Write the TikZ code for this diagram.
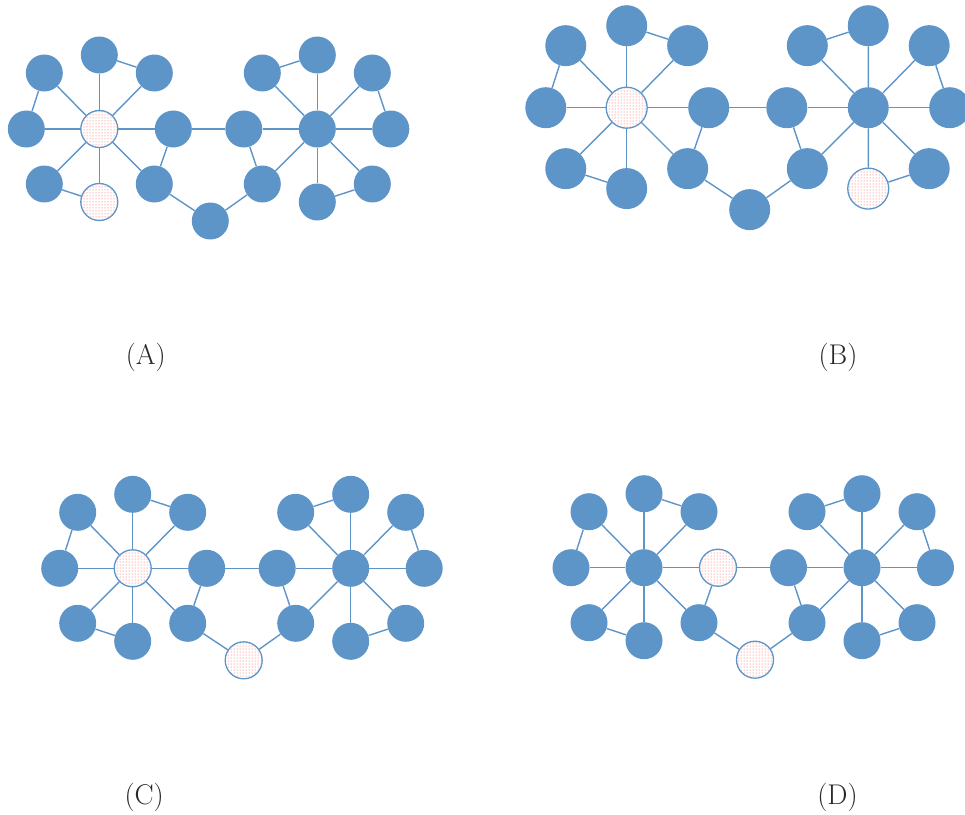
\documentclass[tikz,border=0pt]{standalone}
\usetikzlibrary{patterns}
\definecolor{nblue}{RGB}{94,149,201}
\definecolor{ltxt}{RGB}{40,40,40}
\tikzset{
  solidnode/.style={fill=nblue, draw=none},
  dotnode/.style={preaction={fill=white}, pattern=dots, pattern color=red!70, draw=nblue, line width=1.3pt},
  edge/.style={draw=nblue, line width=1.4pt},
  nh1/.style=solidnode, nt1/.style=solidnode, ntr1/.style=solidnode, nr1/.style=solidnode,
  nbr1/.style=solidnode, nb1/.style=solidnode, nbl1/.style=solidnode, nl1/.style=solidnode, ntl1/.style=solidnode,
  nh2/.style=solidnode, nt2/.style=solidnode, ntr2/.style=solidnode, nr2/.style=solidnode,
  nbr2/.style=solidnode, nb2/.style=solidnode, nbl2/.style=solidnode, nl2/.style=solidnode, ntl2/.style=solidnode,
  nc/.style=solidnode,
  lbl/.style={inner sep=0pt, text=ltxt, font=\fontsize{28.5}{34}\selectfont}
}
% #1 prefix, #2 x, #3 y, #4 scale, #5 overrides
\newcommand\drawpanel[5]{%
\begin{scope}[shift={(#2,#3)}, scale=#4, nd/.style={circle, inner sep=0pt, minimum size=#4*37pt}, #5]
  \node[nd,nh1] (#1h1) at (0,0) {};
  \node[nd,nt1] (#1t1) at (0,-74) {};
  \node[nd,ntr1] (#1tr1) at (55,-56) {};
  \node[nd,nr1] (#1r1) at (74,0) {};
  \node[nd,nbr1] (#1br1) at (55,55) {};
  \node[nd,nb1] (#1b1) at (0,73) {};
  \node[nd,nbl1] (#1bl1) at (-55,55) {};
  \node[nd,nl1] (#1l1) at (-73,0) {};
  \node[nd,ntl1] (#1tl1) at (-55,-56) {};
  \node[nd,nh2] (#1h2) at (218,0) {};
  \node[nd,nt2] (#1t2) at (218,-74) {};
  \node[nd,ntl2] (#1tl2) at (163,-56) {};
  \node[nd,nl2] (#1l2) at (144.5,0) {};
  \node[nd,nbl2] (#1bl2) at (163,55) {};
  \node[nd,nb2] (#1b2) at (218,73) {};
  \node[nd,nbr2] (#1br2) at (273,55) {};
  \node[nd,nr2] (#1r2) at (291.5,0) {};
  \node[nd,ntr2] (#1tr2) at (273,-56) {};
  \node[nd,nc] (#1c) at (111,92) {};
  \foreach \k in {t1,tr1,r1,br1,b1,bl1,l1,tl1} \draw[edge] (#1h1) -- (#1\k);
  \foreach \k in {t2,tr2,r2,br2,b2,bl2,l2,tl2} \draw[edge] (#1h2) -- (#1\k);
  \draw[edge] (#1tl1) -- (#1l1);
  \draw[edge] (#1t1) -- (#1tr1);
  \draw[edge] (#1bl1) -- (#1b1);
  \draw[edge] (#1r1) -- (#1br1);
  \draw[edge] (#1r1) -- (#1l2);
  \draw[edge] (#1br1) -- (#1c);
  \draw[edge] (#1c) -- (#1bl2);
  \draw[edge] (#1l2) -- (#1bl2);
  \draw[edge] (#1tl2) -- (#1t2);
  \draw[edge] (#1tr2) -- (#1r2);
  \draw[edge] (#1b2) -- (#1br2);
\end{scope}}
\begin{document}
\begin{tikzpicture}[x=1pt,y=-1pt]
\useasboundingbox (0,0) rectangle (965,814);
\drawpanel{a}{99.3}{129}{1}{nh1/.style=dotnode, nb1/.style=dotnode}
\drawpanel{b}{626.7}{107.7}{1.108}{nh1/.style=dotnode, nb2/.style=dotnode}
\drawpanel{c}{132.7}{568.3}{1}{nh1/.style=dotnode, nc/.style=dotnode}
\drawpanel{d}{644}{567.7}{1}{nr1/.style=dotnode, nc/.style=dotnode}
\node[lbl] (la) at (145.8,357.5) {(A)};
\node[lbl] (lb) at (838,357.5) {(B)};
\node[lbl] (lc) at (144.2,797.3) {(C)};
\node[lbl] (ld) at (837.5,797.3) {(D)};
\end{tikzpicture}
\end{document}
